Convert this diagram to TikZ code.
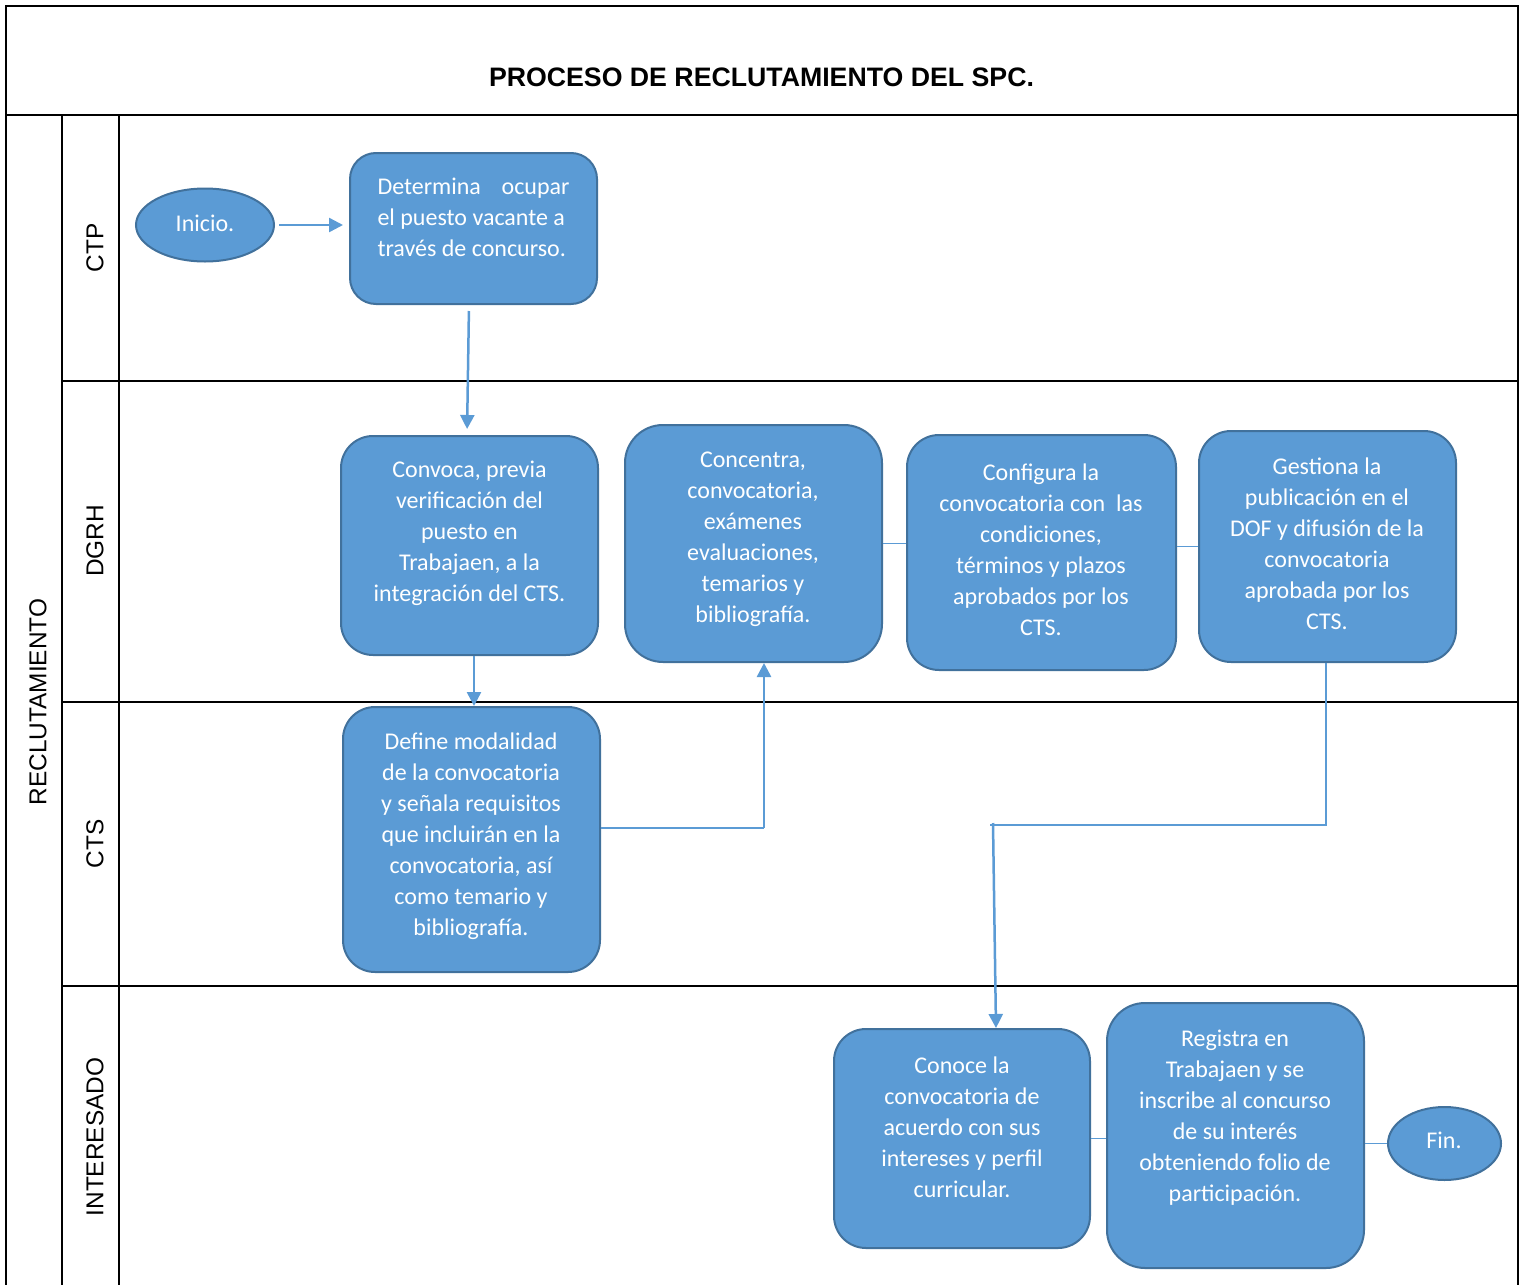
\documentclass[tikz,border=0pt]{standalone}
\usepackage{fontspec}
\setmainfont{Carlito}
\newfontfamily\arialf{Liberation Sans}
\usetikzlibrary{arrows.meta,shapes.geometric}
\definecolor{fillb}{HTML}{5B9BD5}
\definecolor{drawb}{HTML}{41719C}
\begin{document}
\begin{tikzpicture}[x=1pt,y=-1pt,
  frame/.style={draw=black, line width=2pt},
  box/.style={rectangle, rounded corners=32pt, fill=fillb, draw=drawb, line width=2pt, inner sep=0pt},
  oval/.style={ellipse, fill=fillb, draw=drawb, line width=2pt, inner sep=0pt},
  txt/.style={text=white, font=\fontsize{24}{31}\selectfont, align=center, inner sep=0pt},
  lane/.style={font=\arialf\fontsize{24.4}{28}\selectfont, rotate=90, inner sep=0pt},
  arr/.style={draw=fillb, line width=2.5pt, -{Triangle[width=14pt,length=14pt]}},
  conn/.style={draw=fillb, line width=1.5pt}]
\clip (0,0) rectangle (1524,1285);
\fill[white] (0,0) rectangle (1524,1285);
% frame and lanes
\draw[frame] (6,1290) -- (6,6) -- (1518,6) -- (1518,1290);
\draw[frame] (6,115) -- (1518,115);
\draw[frame] (62,115) -- (62,1290);
\draw[frame] (119,115) -- (119,1290);
\draw[frame] (62,381) -- (1518,381);
\draw[frame] (62,702) -- (1518,702);
\draw[frame] (62,986) -- (1518,986);
\node[font=\arialf\bfseries\fontsize{26.7}{32}\selectfont] (title) at (761.5,77) {PROCESO DE RECLUTAMIENTO DEL SPC.};
\node[lane] (lrec) at (38,702) {RECLUTAMIENTO};
\node[lane] (lctp) at (95,248) {CTP};
\node[lane] (ldgrh) at (95,541) {DGRH};
\node[lane] (lcts) at (95,844) {CTS};
\node[lane] (lint) at (95,1137) {INTERESADO};
% shapes
\node[oval, minimum width=138, minimum height=73] (ini) at (205,225) {};
\node[txt] (init) at (205,223) {Inicio.};
\node[box, rounded corners=26pt, minimum width=247, minimum height=151] (b1) at (473.5,228.5) {};
\node[txt, align=left] (b1t) at (473.5,217.5) {\makebox[192pt][l]{Determina\hfill ocupar}\\el puesto vacante a\\través de concurso.};
\node[box, minimum width=257, minimum height=219] (b2) at (469.5,545.5) {};
\node[txt] (b2t) at (469.5,533) {Convoca, previa\\verificación del\\puesto en\\Trabajaen, a la\\integración del CTS.};
\node[box, rounded corners=38pt, minimum width=257, minimum height=237] (b3) at (753.5,543.5) {};
\node[txt] (b3t) at (753,539) {Concentra,\\convocatoria,\\exámenes\\evaluaciones,\\temarios y\\bibliografía.};
\node[box, minimum width=269, minimum height=235] (b4) at (1041.5,552.5) {};
\node[txt] (b4t) at (1041,549.5) {Configura la\\convocatoria con\ \ las\\condiciones,\\términos y plazos\\aprobados por los\\CTS.};
\node[box, minimum width=257, minimum height=231] (b5) at (1327.5,546.5) {};
\node[txt] (b5t) at (1327,544) {Gestiona la\\publicación en el\\DOF y difusión de la\\convocatoria\\aprobada por los\\CTS.};
\node[box, minimum width=257, minimum height=265] (b6) at (471.5,839.5) {};
\node[txt] (b6t) at (471,836.5) {Define modalidad\\de la convocatoria\\y señala requisitos\\que incluirán en la\\convocatoria, así\\como temario y\\bibliografía.};
\node[box, minimum width=256, minimum height=219] (b7) at (962,1138.5) {};
\node[txt] (b7t) at (962,1127.5) {Conoce la\\convocatoria de\\acuerdo con sus\\intereses y perfil\\curricular.};
\node[box, rounded corners=38pt, minimum width=257, minimum height=265] (b8) at (1235.5,1135.5) {};
\node[txt] (b8t) at (1235,1118) {Registra en\\Trabajaen y se\\inscribe al concurso\\de su interés\\obteniendo folio de\\participación.};
\node[oval, minimum width=113, minimum height=73] (fin) at (1444.5,1143.5) {};
\node[txt] (fint) at (1444,1140) {Fin.};
% connectors
\draw[arr, shorten <=4pt, shorten >=6pt] (ini.east) -- (ini.east -| b1.west);
\draw[arr, shorten <=6pt, shorten >=6pt] ([xshift=-4.5]b1.south) -- ([xshift=-2.5]b2.north);
\draw[arr] ([xshift=4.5]b2.south) -- ([xshift=2.5]b6.north);
\coordinate (k1) at (764,828);
\draw[conn] (b6.east |- k1) -- (k1);
\draw[arr] (k1) -- (k1 |- b3.south);
\coordinate (k2) at (1326,825);
\coordinate (k3) at (990,825);
\draw[conn] (k2 |- b5.south) -- (k2) -- (k3);
\draw[arr] ([xshift=3,yshift=2]k3) -- ([xshift=34]b7.north);
\draw[conn] (b3.east) -- (b3.east -| b4.west);
\draw[conn] (b5.west -| b4.east) -- (b5.west);
\draw[conn] (b7.east) -- (b7.east -| b8.west);
\draw[conn] (fin.west -| b8.east) -- (fin.west);
\end{tikzpicture}
\end{document}
